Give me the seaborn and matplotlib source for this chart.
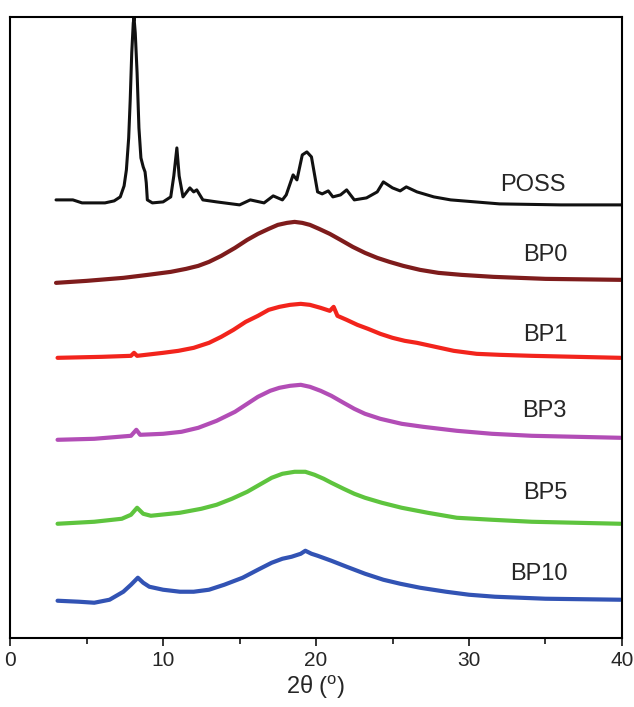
import pandas as pd
import matplotlib
matplotlib.use('Agg')
import matplotlib.pyplot as plt
import seaborn as sns
from matplotlib.ticker import MultipleLocator

# XRD patterns (stacked, arbitrary intensity units)
poss_theta = [3.0, 4.1, 4.7, 6.2, 6.8, 7.2, 7.45, 7.6, 7.75, 7.85, 7.95, 8.05, 8.1, 8.18,
              8.3, 8.42, 8.55, 8.7, 8.82, 8.9, 8.97, 9.3, 10.0, 10.5, 10.7, 10.9, 11.05,
              11.3, 11.75, 12.0, 12.2, 12.6, 13.5, 15.0, 15.7, 16.6, 17.2, 17.8, 18.05,
              18.5, 18.75, 19.1, 19.4, 19.7, 20.1, 20.4, 20.8, 21.1, 21.6, 22.0, 22.5,
              23.3, 24.0, 24.4, 25.0, 25.5, 25.9, 26.6, 27.7, 28.8, 32.0, 36.0, 40.0]
poss_int = [438, 438, 435, 435, 437, 441, 452, 468, 500, 538, 585, 615, 620, 605,
            565, 510, 480, 471, 466, 455, 438, 435, 436, 441, 462, 490, 462,
            441, 450, 446, 448, 438, 436, 433, 438, 435, 442, 438, 443,
            463, 458, 483, 486, 481, 446, 444, 447, 441, 443, 448, 438,
            440, 446, 456, 450, 447, 451, 446, 441, 438, 434, 433, 433]

bp0_theta = [3.0, 5.0, 7.4, 9.0, 10.5, 11.5, 12.3, 13.0, 13.8, 14.7, 15.5, 16.2, 16.9,
             17.5, 18.1, 18.6, 19.1, 19.6, 20.2, 20.9, 21.6, 22.4, 23.2, 24.0, 24.8,
             25.7, 26.8, 28.0, 29.5, 31.6, 35.0, 40.0]
bp0_int = [355, 357, 360, 363, 366, 369, 372, 376, 382, 390, 398, 404, 409,
           413, 415, 416, 415, 413, 409, 404, 398, 391, 385, 380, 376,
           372, 368, 365, 363, 361, 359, 358]

bp1_theta = [3.1, 6.0, 7.9, 8.1, 8.3, 10.0, 11.0, 12.0, 13.0, 13.8, 14.6, 15.4, 16.2,
             16.9, 17.6, 18.3, 19.0, 19.6, 20.3, 20.9, 21.15, 21.4, 22.0, 22.7, 23.4,
             24.2, 25.0, 25.8, 26.6, 27.8, 29.0, 30.5, 32.0, 34.1, 37.0, 39.9]
bp1_int = [280, 281, 282, 285, 282, 285, 287, 290, 295, 301, 308, 316, 322,
           328, 331, 333, 334, 333, 330, 327, 331, 322, 318, 313, 309,
           304, 300, 297, 295, 291, 287, 284, 283, 282, 281, 280]

bp3_theta = [3.1, 5.5, 7.9, 8.25, 8.5, 10.0, 11.2, 12.3, 13.5, 14.7, 15.5, 16.2, 17.0,
             17.6, 18.3, 19.0, 19.6, 20.3, 21.0, 21.8, 22.5, 23.2, 24.2, 25.6, 27.0,
             29.2, 31.5, 34.1, 37.0, 39.9]
bp3_int = [198, 199, 202, 208, 203, 204, 206, 210, 217, 226, 234, 241, 247,
           250, 252, 253, 251, 247, 242, 235, 229, 224, 219, 214, 211,
           207, 204, 202, 201, 200]

bp5_theta = [3.1, 5.5, 7.3, 7.9, 8.3, 8.7, 9.2, 11.1, 12.5, 13.5, 14.5, 15.5, 16.3,
             17.1, 17.8, 18.6, 19.3, 19.9, 20.5, 21.0, 21.8, 22.5, 23.2, 24.3, 25.6,
             27.3, 29.2, 31.5, 34.1, 39.9]
bp5_int = [114, 116, 119, 123, 130, 124, 122, 125, 129, 133, 139, 146, 153,
           160, 164, 166, 166, 163, 159, 155, 149, 144, 140, 135, 130,
           125, 120, 118, 116, 114]

bp10_theta = [3.1, 4.5, 5.5, 6.5, 7.4, 7.9, 8.35, 8.7, 9.1, 10.0, 11.1, 12.0, 13.0,
              14.0, 15.2, 16.2, 17.1, 17.8, 18.4, 19.0, 19.3, 19.7, 20.1, 21.0, 22.0,
              23.2, 24.4, 25.5, 26.8, 28.5, 30.0, 31.7, 35.0, 39.9]
bp10_int = [37, 36, 35, 38, 46, 53, 60, 55, 51, 48, 46, 46, 48,
            53, 60, 68, 75, 79, 81, 84, 87, 84, 82, 77, 71,
            64, 58, 54, 50, 46, 43, 41, 39, 38]

samples = ['POSS', 'BP0', 'BP1', 'BP3', 'BP5', 'BP10']
colors = ['#111111', '#7e1c1c', '#f2241c', '#b24db6', '#5ec43e', '#3253b4']
label_x = [34.2, 35.0, 35.0, 34.9, 35.0, 34.6]
label_y = [453, 383, 303, 227, 145, 64]

frames = []
for name, th, it in zip(samples,
                        [poss_theta, bp0_theta, bp1_theta, bp3_theta, bp5_theta, bp10_theta],
                        [poss_int, bp0_int, bp1_int, bp3_int, bp5_int, bp10_int]):
    frames.append(pd.DataFrame({'theta': th, 'intensity': it, 'sample': name}))
xrd = pd.concat(frames, ignore_index=True)

sns.set_style('ticks')
plt.rcParams['font.family'] = ['Liberation Sans', 'DejaVu Sans']
plt.rcParams['mathtext.fontset'] = 'custom'
plt.rcParams['mathtext.rm'] = 'Liberation Sans'

fig = plt.figure(figsize=(6.34, 7.07), dpi=100)
ax = fig.add_axes([0.016, 0.098, 0.965, 0.878])

for name, col in zip(samples, colors):
    sub = xrd[xrd['sample'] == name]
    sns.lineplot(data=sub, x='theta', y='intensity', color=col, sort=False,
                 estimator=None, lw=2.2 if name == 'POSS' else 3.0, ax=ax)

for name, lx, ly in zip(samples, label_x, label_y):
    ax.text(lx, ly, name, fontsize=17, ha='center', va='center')

ax.set_xlim(0, 40)
ax.set_ylim(0, 621)
ax.xaxis.set_major_locator(MultipleLocator(10))
ax.xaxis.set_minor_locator(MultipleLocator(5))
ax.tick_params(axis='x', which='major', direction='out', length=6, width=1.3, labelsize=15)
ax.tick_params(axis='x', which='minor', direction='out', length=4, width=1.3)
ax.set_yticks([])
for s in ax.spines.values():
    s.set_linewidth(1.5)
    s.set_color('black')
ax.set_xlabel('2θ ($^{\\mathrm{o}}$)', fontsize=17, labelpad=2)
ax.set_ylabel('')

fig.savefig('out.png', dpi=100)
